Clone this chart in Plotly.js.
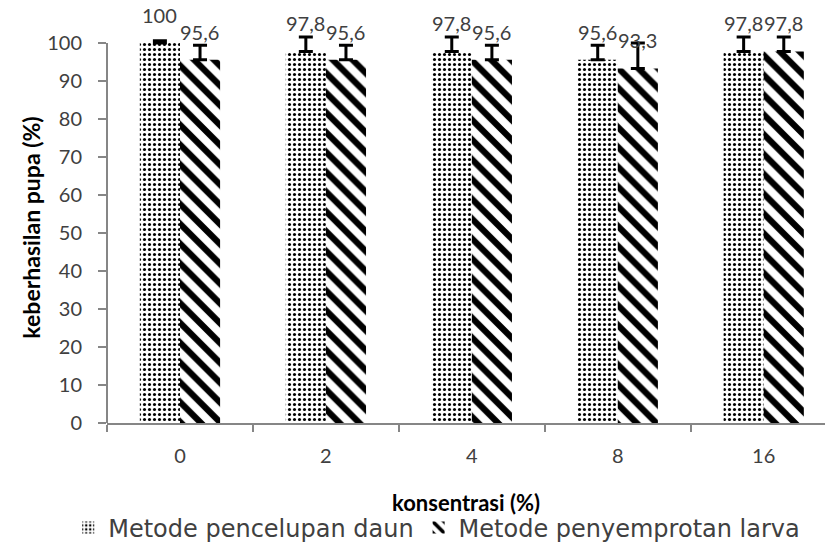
<!DOCTYPE html>
<html>
<head>
<meta charset="utf-8">
<script src="https://cdn.plot.ly/plotly-3.0.1.min.js"></script>
<style>html,body{margin:0;padding:0;background:#fff;}#chart{width:825px;height:552px;}</style>
</head>
<body>
<div id="chart"></div>
<script>
const categories = ["0", "2", "4", "8", "16"];
const celupValues = [100, 97.8, 97.8, 95.6, 97.8];
const celupErrors = [0.6, 3.8, 3.8, 3.8, 3.8];
const semprotValues = [95.6, 95.6, 95.6, 93.3, 97.8];
const semprotErrors = [3.8, 3.8, 3.8, 6.7, 3.8];
const celupLabels = ["100", "97,8", "97,8", "95,6", "97,8"];
const semprotLabels = ["95,6", "95,6", "95,6", "93,3", "97,8"];
const seriesNames = ["Metode pencelupan daun", "Metode penyemprotan larva"];
const yTicks = [0, 10, 20, 30, 40, 50, 60, 70, 80, 90, 100];

const FONT = "Lato, 'Open Sans', sans-serif";
const LFONT = "'DejaVu Sans', sans-serif";
const zeros = categories.map(() => 0);
const yMax = yTicks[yTicks.length - 1];

const traces = [
  {
    type: "bar", name: seriesNames[0], x: categories, y: celupValues,
    marker: {color: "#ffffff", line: {color: "#000", width: 0},
      pattern: {shape: ".", fgcolor: "#000", bgcolor: "#fff", size: 5, solidity: 0.3}},
    error_y: {type: "data", symmetric: false, array: celupErrors, arrayminus: zeros,
      color: "#000", thickness: 3, width: 7}
  },
  {
    type: "bar", name: seriesNames[1], x: categories, y: semprotValues,
    marker: {color: "#ffffff", line: {color: "#fff", width: 0},
      pattern: {shape: "\\", fgcolor: "#000", bgcolor: "#fff", size: 14, solidity: 0.45}},
    error_y: {type: "data", symmetric: false, array: semprotErrors, arrayminus: zeros,
      color: "#000", thickness: 3, width: 7}
  }
];

const annotations = [];
categories.forEach((c, i) => {
  annotations.push({x: i, y: celupValues[i], xref: "x", yref: "y", text: celupLabels[i],
    showarrow: false, xshift: -20, yshift: 28, font: {family: FONT, size: 20, color: "#404040"}});
  annotations.push({x: i, y: semprotValues[i], xref: "x", yref: "y", text: semprotLabels[i],
    showarrow: false, xshift: 20, yshift: 28, font: {family: FONT, size: 20, color: "#404040"}});
});

const layout = {
  width: 825, height: 552,
  margin: {l: 107, r: 0, t: 32, b: 129},
  paper_bgcolor: "#fff", plot_bgcolor: "#fff",
  font: {family: FONT, size: 20, color: "#404040"},
  barmode: "group", bargap: 0.45, bargroupgap: 0,
  showlegend: true,
  legend: {orientation: "h", x: -0.054, xanchor: "left", y: -0.268, yanchor: "middle",
    font: {family: LFONT, size: 24, color: "#404040"}, itemwidth: 30, tracegroupgap: 0},
  xaxis: {
    type: "category", range: [-0.5, 4.42], showline: true, linecolor: "#868686", linewidth: 2,
    ticks: "outside", tickson: "boundaries", ticklen: 7, tickcolor: "#868686", tickwidth: 2,
    showgrid: false, zeroline: false, ticklabelstandoff: 14,
    tickfont: {family: FONT, size: 20, color: "#404040"},
    title: {text: "konsentrasi (%)", font: {family: FONT, size: 22, color: "#000", weight: "bold"}, standoff: 30}
  },
  yaxis: {
    range: [0, 102.9], tickvals: yTicks, showline: false,
    ticks: "outside", ticklen: 8, tickcolor: "#868686", tickwidth: 2,
    showgrid: false, zeroline: false, ticklabelstandoff: 12,
    tickfont: {family: FONT, size: 20, color: "#404040"},
    title: {text: "keberhasilan pupa (%)", font: {family: FONT, size: 23, color: "#000", weight: "bold"}, standoff: 0}
  },
  shapes: [{type: "line", xref: "paper", yref: "y", x0: 0, x1: 0, y0: 0, y1: yMax,
    line: {color: "#868686", width: 2}}],
  annotations: annotations
};

traces.forEach(t => t.cliponaxis = false);
Plotly.newPlot("chart", traces, layout, {displayModeBar: false, staticPlot: true});
</script>
</body>
</html>
